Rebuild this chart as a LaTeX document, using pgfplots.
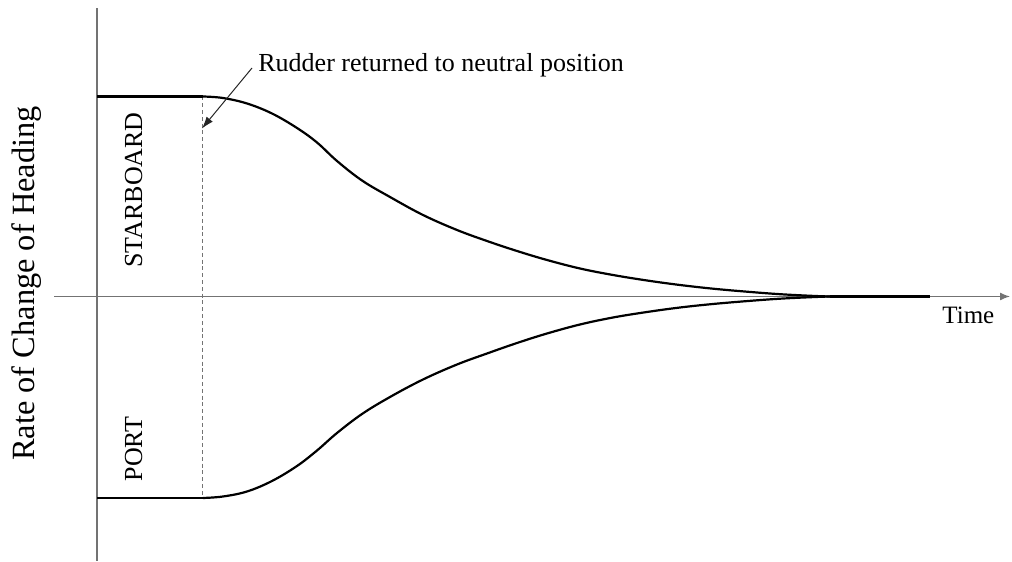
\documentclass[border=0pt]{standalone}
\usepackage{fontspec}
\setmainfont{Liberation Serif}
\usepackage{pgfplots}
\pgfplotsset{compat=1.18}
\usetikzlibrary{arrows.meta}
\begin{document}
\begin{tikzpicture}
\begin{axis}[
  scale only axis,
  width=506pt, height=280.5pt,
  xmin=-97, xmax=915, ymin=-264.5, ymax=296.5,
  hide axis, clip=false,
]
% bounding box
\path (axis cs:-97,-264.5) rectangle (axis cs:915,296.5);
% axes
\draw[black!55, line width=0.7pt] (axis cs:0,-264.5) -- (axis cs:0,288.5);
\draw[black!55, line width=0.7pt, -{Latex[length=5pt,width=4pt]}] (axis cs:-43,0) -- (axis cs:913,0);
% dashed line
\addplot[black!55, line width=0.75pt, dash pattern=on 2pt off 1.4pt] coordinates {(105.5,200) (105.5,-201.5)};
% starboard curve
\addplot[black, line width=1.1pt] coordinates {(0,200) (106,200)};
\addplot[black, line width=1.1pt, smooth, tension=0.6] coordinates {
(106,200) (126,198.5) (150,193) (175,183) (200,168.5) (220,154) (240,135.5) (265,116)
(293,99.5) (326,81.5) (360,66.5) (390,55.5) (420,45.5) (450,36.5) (483,28)
(516,21.5) (550,16) (583,11.5) (616,7.8) (650,4.8) (683,2.3) (716,0.6) (733,0)};
% port curve
\addplot[black, line width=1.1pt] coordinates {(0,-201.5) (106,-201.5)};
\addplot[black, line width=1.1pt, smooth, tension=0.6] coordinates {
(106,-201.5) (126,-200) (150,-195) (175,-184.5) (200,-169.5) (220,-154) (240,-136.5) (265,-117.5)
(293,-100.5) (326,-83) (360,-68) (390,-57) (420,-46.5) (450,-37) (483,-28)
(516,-21) (550,-15.5) (583,-11) (616,-7.5) (650,-4.6) (683,-2.2) (716,-0.6) (733,0)};
\addplot[black, line width=1.6pt] coordinates {(733,0) (833,0)};
% annotation
\draw[black!85, line width=0.5pt, -{Latex[length=6pt,width=4pt]}] (axis cs:155,228.5) -- (axis cs:105,168);
\node[anchor=base west, inner sep=0pt, font=\fontsize{13}{15}\selectfont] at (axis cs:161,224.5) {Rudder returned to neutral position};
\node[rotate=90, anchor=base, inner sep=0pt, font=\fontsize{13}{15}\selectfont] at (axis cs:45,106.5) {STARBOARD};
\node[rotate=90, anchor=base, inner sep=0pt, font=\fontsize{13}{15}\selectfont] at (axis cs:45,-152.5) {PORT};
\node[anchor=base west, inner sep=0pt, font=\fontsize{12.5}{15}\selectfont] at (axis cs:845,-26.8) {Time};
\node[rotate=90, anchor=base, inner sep=0pt, font=\fontsize{16.2}{19}\selectfont] at (axis cs:-62,13) {Rate of Change of Heading};
\end{axis}
\end{tikzpicture}
\end{document}
